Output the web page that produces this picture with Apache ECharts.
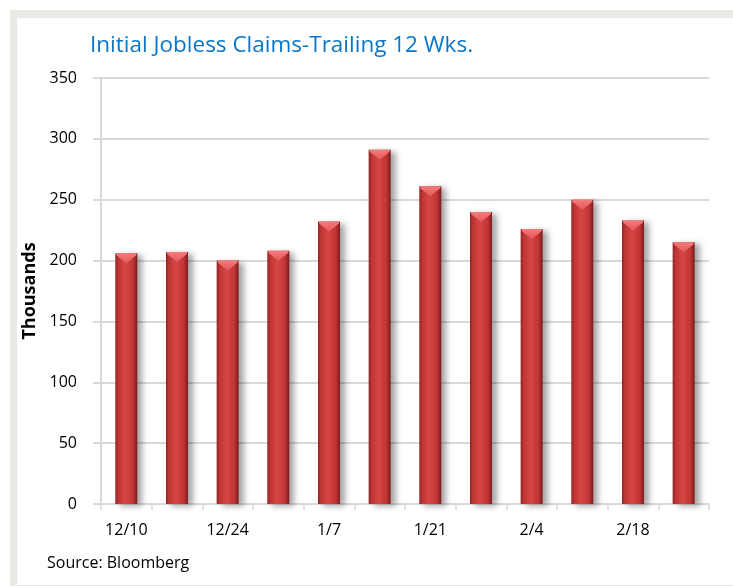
<!DOCTYPE html>
<html>
<head>
<meta charset="utf-8">
<script src="https://cdn.jsdelivr.net/npm/echarts@6/dist/echarts.min.js"></script>
<style>html,body{margin:0;padding:0;background:#fff}#c{width:733px;height:587px}</style>
</head>
<body>
<div id="c"></div>
<script>
const categories = ['12/10','12/17','12/24','12/31','1/7','1/14','1/21','1/28','2/4','2/11','2/18','2/25'];
const claims = [206, 207, 200, 208, 232, 291, 261, 240, 226, 250, 233, 215];
const titleText = 'Initial Jobless Claims-Trailing 12 Wks.';
const sourceText = 'Source: Bloomberg';
const yName = 'Thousands';

const FONT = '"Open Sans", Lato, sans-serif';
const chart = echarts.init(document.getElementById('c'), null, {renderer: 'canvas'});
const barW = 22;
chart.setOption({
  animation: false,
  backgroundColor: '#ffffff',
  graphic: [
    {type: 'rect', z: -10, shape: {x: 10, y: 10, width: 730, height: 576}, style: {fill: '#e9e9e5'}},
    {type: 'rect', z: -9, shape: {x: 17, y: 18, width: 720, height: 567}, style: {fill: '#ffffff'}},
    {type: 'text', left: 47, top: 555, style: {text: sourceText, font: '16px ' + FONT, fill: '#000'}}
  ],
  title: {
    text: titleText, left: 85, top: 29,
    textStyle: {color: '#0a76c8', fontSize: 22.5, fontWeight: 'normal', fontFamily: FONT}
  },
  grid: {left: 101, right: 24, top: 78, bottom: 83, containLabel: false},
  xAxis: {
    type: 'category', data: categories, boundaryGap: true,
    axisLine: {lineStyle: {color: '#d9d9d9', width: 2}},
    axisTick: {show: true, interval: 0, length: 6, lineStyle: {color: '#d9d9d9', width: 1.5}},
    axisLabel: {interval: 1, color: '#000', fontSize: 16, fontFamily: FONT, margin: 18}
  },
  yAxis: {
    type: 'value', min: 0, max: 350, interval: 50,
    name: yName, nameLocation: 'middle', nameRotate: 90, nameGap: 58,
    nameTextStyle: {color: '#000', fontSize: 18, fontWeight: 'bold', fontFamily: FONT},
    axisLine: {show: true, lineStyle: {color: '#d9d9d9', width: 2}},
    axisTick: {show: true, length: 8, lineStyle: {color: '#d9d9d9', width: 2}},
    splitLine: {lineStyle: {color: '#d9d9d9', width: 2}},
    axisLabel: {color: '#000', fontSize: 16, fontFamily: FONT, margin: 24}
  },
  series: [
    {
      type: 'bar', data: claims, barWidth: barW, barGap: '-100%', z: 2,
      itemStyle: {
        color: new echarts.graphic.LinearGradient(0, 0, 1, 0, [
          {offset: 0, color: '#8e2222'},
          {offset: 0.12, color: '#bb3434'},
          {offset: 0.45, color: '#d84545'},
          {offset: 0.8, color: '#c23535'},
          {offset: 1, color: '#7c1c1c'}
        ]),
        shadowColor: 'rgba(0,0,0,0.35)', shadowBlur: 6, shadowOffsetX: 5, shadowOffsetY: 2
      }
    },
    {
      type: 'pictorialBar', data: claims, barWidth: barW, barGap: '-100%', z: 3,
      symbol: 'path://M0,0 L20,0 L20,2 L10,10 L0,2 Z', symbolSize: [barW - 2, 10], symbolPosition: 'end',
      itemStyle: {
        color: new echarts.graphic.LinearGradient(0, 0, 0, 1, [
          {offset: 0, color: '#f47c7c'},
          {offset: 1, color: '#e45858'}
        ])
      }
    }
  ]
});
</script>
</body>
</html>
